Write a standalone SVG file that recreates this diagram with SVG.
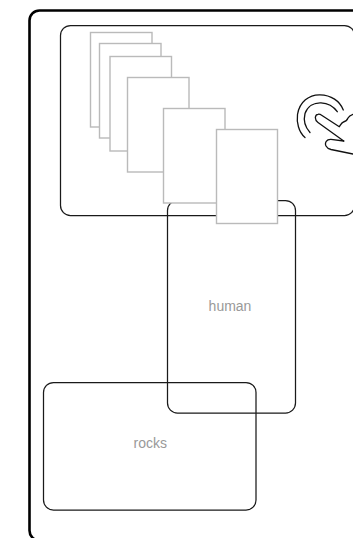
<svg xmlns="http://www.w3.org/2000/svg" width="353" height="538" viewBox="0 0 353 538">
<style>
.box{fill:none;stroke:#1a1a1a;stroke-width:1.25}
.card{fill:#fff;stroke:#bababa;stroke-width:1.4}
.icon{fill:none;stroke:#111;stroke-width:1.3;stroke-linecap:round;stroke-linejoin:round}
text{font-family:"Liberation Sans",Arial,sans-serif;font-size:14px;fill:#999;text-anchor:middle}
</style>
<rect width="353" height="538" fill="#fff"/>
<g id="frame"><rect x="29.500" y="10.500" width="340" height="530" rx="10" fill="none" stroke="#000" stroke-width="2.600"/></g>
<g id="panel"><rect class="box" x="60.500" y="25.500" width="294" height="190" rx="10"/></g>
<g id="human"><rect class="box" x="167.500" y="200.500" width="128" height="212.500" rx="10"/><text x="230" y="311">human</text></g>
<g id="rocks"><rect class="box" x="43.500" y="382.500" width="212.500" height="127.500" rx="10"/><text x="150.200" y="447.500">rocks</text></g>
<g id="card-1"><rect class="card" x="90.500" y="32.500" width="61.500" height="94.500"/></g>
<g id="card-2"><rect class="card" x="99.500" y="43.500" width="61.500" height="94.500"/></g>
<g id="card-3"><rect class="card" x="110" y="56.500" width="61.500" height="94.500"/></g>
<g id="card-4"><rect class="card" x="127.500" y="77.500" width="61.500" height="94.500"/></g>
<g id="card-5"><rect class="card" x="163.500" y="108.500" width="61.500" height="94.500"/></g>
<g id="card-6"><rect class="card" x="216.500" y="129.500" width="61" height="94"/></g>
<g id="touch-icon">
<path class="icon" d="M305 137.500C298.500 132 296.500 122 297.500 114.500C299.500 102 309 94.500 320 94.800C331 95 340 101 343.300 110"/>
<path class="icon" d="M310 132.500C305 127 303.500 119.500 305 113.500C307.500 106 314 102.500 321 102.800C328 103 334 107 337.300 111.700"/>
<path class="icon" d="M343.700 141L318 122.500C314 119.500 315 114.500 318 114.300C319 114 320.500 114.500 322 115.500L339.300 126.700C341 124 341.500 122.500 343.500 122C346 121.500 347 120.500 348 118C349 116 351 115 353 114.300"/>
<path class="icon" d="M343.700 141L331 139.300C326.500 139 324.500 143 326 146C327 148 329 149 331 149.500L353 154"/>
</g>
</svg>
